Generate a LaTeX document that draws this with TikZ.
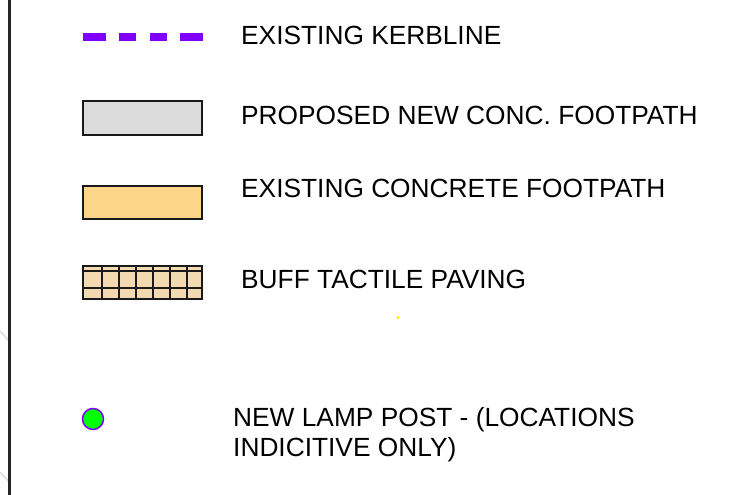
\documentclass[tikz,border=0pt]{standalone}
\usepackage{fontspec}
\setmainfont{Liberation Sans}
\usepackage{tikz}
\tikzset{>=latex}
\usetikzlibrary{calc}
\definecolor{kerb}{HTML}{8000FF}
\definecolor{newpath}{HTML}{DCDCDC}
\definecolor{oldpath}{HTML}{FCD589}
\definecolor{buff}{HTML}{F2D9B0}
\definecolor{lamp}{HTML}{00FF00}
\definecolor{faint}{HTML}{D4D4D4}

\begin{document}
\begin{tikzpicture}[x=1pt, y=-1pt]
            \tikzset{label/.style = {anchor=base west, inner sep=0pt, font=\fontsize{26.3}{30}\selectfont},
                     swatch/.style = {draw=black!90, line width=2pt}}
            \useasboundingbox (0, 0) rectangle (731, 495);
            \draw[faint, line width=1.2pt] (0, 331) -- (9, 341);
            \draw[faint, line width=1.2pt] (0, 472) -- (9, 482);
            \draw[black!85, line width=2.2pt] (9.5, 0) -- (9.5, 495);
            \draw[kerb, line width=8pt, dash pattern=on 23pt off 13pt on 17pt off 14pt on 17pt off 13pt on 23pt] (83, 37) -- (203, 37);
            \node[label] (kerbtext) at (241, 45) {EXISTING KERBLINE};
            \draw[swatch, fill=newpath] (83, 101) rectangle (202, 135);
            \node[label] (newtext) at (241, 124) {PROPOSED NEW CONC. FOOTPATH};
            \draw[swatch, fill=oldpath] (83, 186) rectangle (202, 219);
            \node[label] (oldtext) at (241, 197) {EXISTING CONCRETE FOOTPATH};
            \draw[swatch, fill=buff] (83, 266) rectangle (202, 299);
            \foreach \k in {1, ..., 6} {
                \draw[black!90, line width=1.5pt] (85 + 17*\k, 266) -- (85 + 17*\k, 299);
            }
            \draw[black!90, line width=1.5pt] (83, 271) -- (202, 271);
            \draw[black!90, line width=1.5pt] (83, 288) -- (202, 288);
            \node[label] (bufftext) at (241, 288) {BUFF TACTILE PAVING};
            \fill[yellow] (397, 315.5) rectangle (399, 318.5);
            \draw[kerb, fill=lamp, line width=1.5pt] (93, 419) circle [radius = 10.5];
            \node[label, align=left] (lamptext) at (233, 456) {NEW LAMP POST - (LOCATIONS\\INDICITIVE ONLY)};
        \end{tikzpicture}
\end{document}
